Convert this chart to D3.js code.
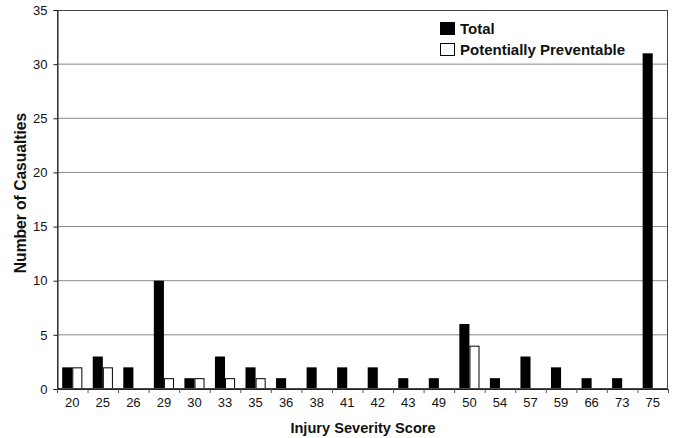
<!DOCTYPE html>
<html><head><meta charset="utf-8">
<script src="https://cdn.jsdelivr.net/npm/d3@7"></script>
<style>body{margin:0;background:#fff}svg{display:block;font-family:"Liberation Sans",Arial,sans-serif}</style>
</head><body><svg id="c" width="674" height="438"></svg>
<script>
const categories = ["20","25","26","29","30","33","35","36","38","41","42","43","49","50","54","57","59","66","73","75"];
const totalValues = [2,3,2,10,1,3,2,1,2,2,2,1,1,6,1,3,2,1,1,31];
const preventableValues = [2,2,0,1,1,1,1,0,0,0,0,0,0,4,0,0,0,0,0,0];
const yTicks = [0,5,10,15,20,25,30,35];
const seriesNames = ["Total","Potentially Preventable"];

const svg = d3.select("#c");
const m = {l:57, r:6, t:10, b:49};
const W = 674, H = 438;
const x = d3.scaleBand().domain(categories).range([m.l, W-m.r]).paddingInner(0.34).paddingOuter(0.17);
const y = d3.scaleLinear().domain([0,35]).range([H-m.b, m.t]);
const FONT = "Liberation Sans, Arial, sans-serif";

// gridlines
svg.append("g").selectAll("line").data(yTicks.filter(d=>d>0&&d<35)).join("line")
  .attr("x1", m.l).attr("x2", W-m.r).attr("y1", d=>y(d)).attr("y2", d=>y(d))
  .attr("stroke","#888").attr("stroke-width",1);

// bars
const bw = x.bandwidth()/2;
const g = svg.append("g");
g.selectAll("rect.t").data(categories).join("rect").attr("class","t")
  .attr("x", d=>x(d)).attr("width", bw)
  .attr("y", (d,i)=>y(totalValues[i])).attr("height",(d,i)=>y(0)-y(totalValues[i]))
  .attr("fill","#000");
g.selectAll("rect.p").data(categories.filter((d,i)=>preventableValues[i]>0)).join("rect").attr("class","p")
  .attr("x", d=>x(d)+bw+0.5).attr("width", bw-1)
  .attr("y", d=>y(preventableValues[categories.indexOf(d)])+0.5)
  .attr("height", d=>y(0)-y(preventableValues[categories.indexOf(d)])-0.5)
  .attr("fill","#fff").attr("stroke","#000").attr("stroke-width",1);

// frame
svg.append("rect").attr("x", m.l+0.5).attr("y", m.t+0.5).attr("width", W-m.r-m.l-1).attr("height", H-m.b-m.t-1)
  .attr("fill","none").attr("stroke","#444").attr("stroke-width",1);

// y axis
const ya = svg.append("g").attr("transform",`translate(${m.l+0.5},0)`)
  .call(d3.axisLeft(y).tickValues(yTicks).tickSize(4).tickPadding(6).tickFormat(d3.format("d")));
ya.select(".domain").attr("stroke","#222");
ya.selectAll(".tick line").attr("stroke","#222");
ya.selectAll("text").attr("font-size",13).attr("fill","#111").attr("font-family",FONT);

// x axis
const xa = svg.append("g").attr("transform",`translate(0,${H-m.b})`)
  .call(d3.axisBottom(x).tickSize(0).tickPadding(9));
xa.select(".domain").attr("stroke","#222");
xa.selectAll("text").attr("font-size",13).attr("fill","#111").attr("font-family",FONT);
// separators between categories
const step = x.step();
svg.append("g").selectAll("line").data(d3.range(categories.length+1)).join("line")
  .attr("x1", i=>m.l + i*step+0.5).attr("x2", i=>m.l + i*step+0.5)
  .attr("y1", H-m.b).attr("y2", H-m.b+4).attr("stroke","#555");

// titles
svg.append("text").attr("x", 363).attr("y", 433).attr("text-anchor","middle")
  .attr("font-size",14.6).attr("font-weight","bold").attr("fill","#111").text("Injury Severity Score");
svg.append("text").attr("transform",`translate(25.5,193) rotate(-90)`).attr("text-anchor","middle")
  .attr("font-size",15.6).attr("font-weight","bold").attr("fill","#111").text("Number of Casualties");

// legend
const lg = svg.append("g").attr("transform","translate(440,22)");
seriesNames.forEach((s,i)=>{
  lg.append("rect").attr("x",0.5).attr("y",i*21+0.5).attr("width",14).attr("height",12)
    .attr("fill", i===0?"#000":"#fff").attr("stroke","#000");
  lg.append("text").attr("x",20).attr("y",i*21+11.5).attr("font-size",15).attr("font-weight","bold")
    .attr("fill","#111").text(s);
});
</script></body></html>
